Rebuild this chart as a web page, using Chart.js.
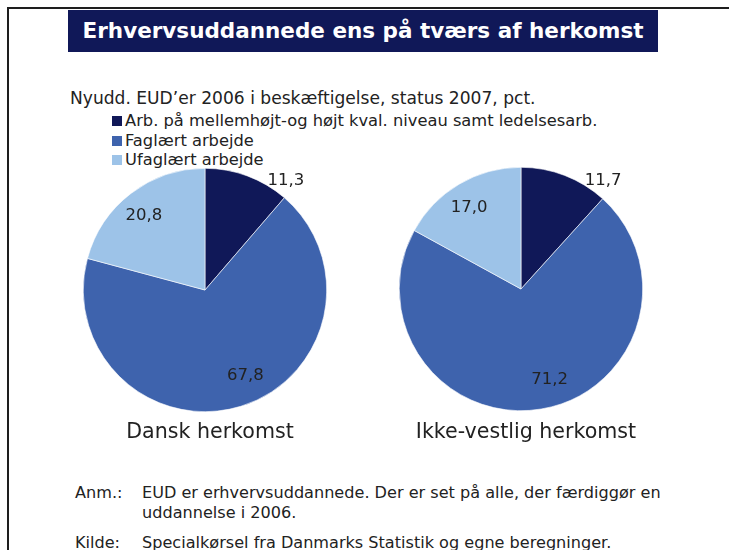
<!DOCTYPE html>
<html lang="da">
<head>
    <meta charset="UTF-8" />
    <title>Erhvervsuddannede ens på tværs af herkomst</title>
    <script src="https://cdn.jsdelivr.net/npm/chart.js"></script>
    <style>
        body { margin: 0; background: #fff; font-family: "DejaVu Sans", Verdana, sans-serif; color: #222; }
        #page { position: relative; width: 729px; height: 550px; overflow: hidden; }
        #frame { position: absolute; left: 7px; top: 7px; width: 730px; height: 560px;
                 border-top: 2px solid #1e1e1e; border-left: 2px solid #1e1e1e; }
        #banner { position: absolute; left: 68px; top: 10px; width: 590px; height: 42px;
                  background: #101858; color: #fff; font-weight: bold; font-size: 21.5px;
                  line-height: 42px; text-align: center; }
        #subtitle { position: absolute; left: 70px; top: 88px; font-size: 17.1px; line-height: 20px; white-space: nowrap; }
        #legend { position: absolute; left: 112px; top: 111px; font-size: 16.3px; line-height: 19.5px; }
        #legend div { white-space: nowrap; }
        #legend span { display: inline-block; width: 10px; height: 10px; margin-right: 3px; }
        canvas { position: absolute; }
        .pieTitle { position: absolute; top: 419px; font-size: 20.6px; line-height: 24px; text-align: center; width: 300px; }
        .note { position: absolute; font-size: 16.1px; line-height: 20px; white-space: nowrap; }
    </style>
</head>
<body>
<div id="page">
    <div id="frame"></div>
    <div id="banner">Erhvervsuddannede ens på tværs af herkomst</div>
    <div id="subtitle">Nyudd. EUD’er 2006 i beskæftigelse, status 2007, pct.</div>
    <div id="legend"></div>

    <canvas id="pieDansk" width="300" height="300" style="left:55px; top:140px;"></canvas>
    <canvas id="pieIkke" width="300" height="300" style="left:371px; top:139px;"></canvas>

    <div class="pieTitle" id="titleDansk" style="left:60px;"></div>
    <div class="pieTitle" id="titleIkke" style="left:376px;"></div>

    <div class="note" style="left:75px; top:483px;">Anm.:</div>
    <div class="note" style="left:142px; top:483px;">EUD er erhvervsuddannede. Der er set på alle, der færdiggør en<br>uddannelse i 2006.</div>
    <div class="note" style="left:75px; top:533px;">Kilde:</div>
    <div class="note" style="left:142px; top:533px;">Specialkørsel fra Danmarks Statistik og egne beregninger.</div>
</div>

<script>
    // kategorier og værdier (pct.)
    const categories = [
        'Arb. på mellemhøjt-og højt kval. niveau samt ledelsesarb.',
        'Faglært arbejde',
        'Ufaglært arbejde'
    ];
    const groups = ['Dansk herkomst', 'Ikke-vestlig herkomst'];
    const dansk = [11.3, 67.8, 20.8];
    const ikkeVestlig = [11.7, 71.2, 17.0];

    const colors = ['#101858', '#3e63ad', '#9dc3e8'];

    // legend i HTML
    const legend = document.getElementById('legend');
    categories.forEach((c, i) => {
        const row = document.createElement('div');
        row.innerHTML = '<span style="background:' + colors[i] + '"></span>' + c;
        legend.appendChild(row);
    });
    document.getElementById('titleDansk').textContent = groups[0];
    document.getElementById('titleIkke').textContent = groups[1];

    // dataetiketter, placeret ca. som i Excel
    const labelRadius = [1.12, 0.78, 0.79];
    const labelTurn = [16, -8, -2];
    const valueLabels = {
        id: 'valueLabels',
        afterDatasetsDraw(chart) {
            const ctx = chart.ctx;
            const meta = chart.getDatasetMeta(0);
            ctx.save();
            ctx.font = '16.5px "DejaVu Sans"';
            ctx.fillStyle = '#222';
            ctx.textAlign = 'center';
            ctx.textBaseline = 'middle';
            meta.data.forEach((arc, i) => {
                const p = arc.getProps(['x', 'y', 'startAngle', 'endAngle', 'outerRadius']);
                const a = (p.startAngle + p.endAngle) / 2 + labelTurn[i] * Math.PI / 180;
                const r = p.outerRadius * labelRadius[i];
                const v = chart.data.datasets[0].data[i];
                ctx.fillText(v.toFixed(1).replace('.', ','), p.x + Math.cos(a) * r, p.y + Math.sin(a) * r);
            });
            ctx.restore();
        }
    };

    function makePie(id, values) {
        const ctx = document.getElementById(id).getContext('2d');
        return new Chart(ctx, {
            type: 'pie',
            data: {
                labels: categories,
                datasets: [{
                    data: values,
                    backgroundColor: colors,
                    borderColor: '#ffffff',
                    borderWidth: 0.6
                }]
            },
            options: {
                responsive: false,
                animation: false,
                layout: { padding: 28 },
                plugins: {
                    legend: { display: false },
                    tooltip: { enabled: false }
                }
            },
            plugins: [valueLabels]
        });
    }

    makePie('pieDansk', dansk);
    makePie('pieIkke', ikkeVestlig);
</script>
</body>
</html>
